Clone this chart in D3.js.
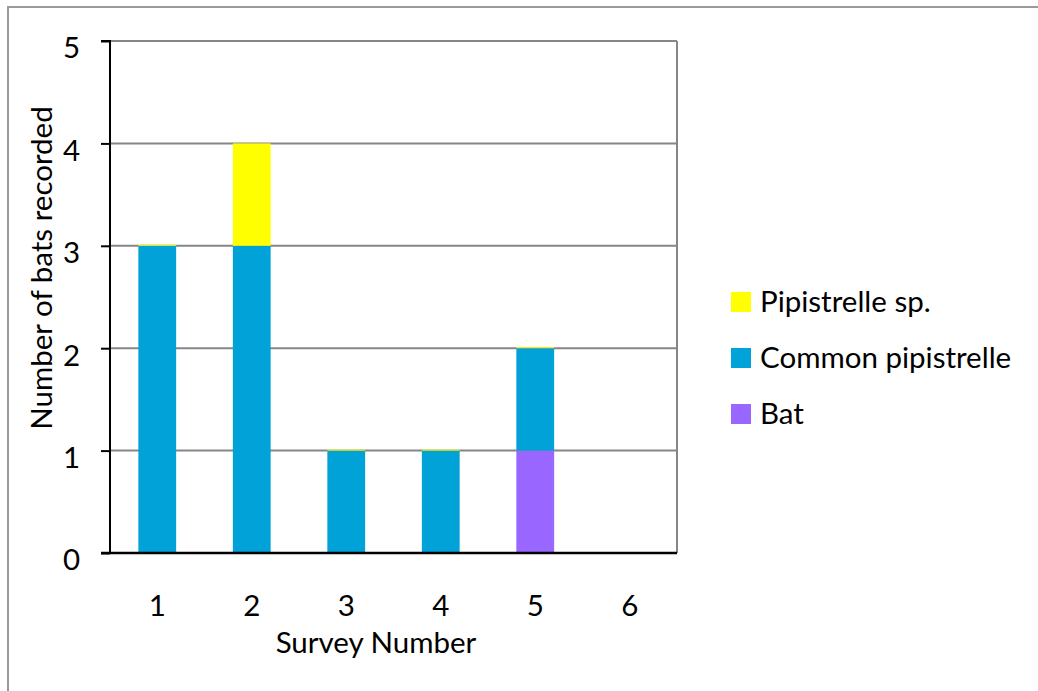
<!DOCTYPE html>
<html><head><meta charset="utf-8">
<script src="https://cdn.jsdelivr.net/npm/d3@7"></script>
<style>body{margin:0;background:#fff}svg{display:block}text{font-family:Lato,"Open Sans",sans-serif;fill:#000}</style>
</head><body><svg id="c" width="1038" height="691"></svg>
<script>
const surveys = ["1","2","3","4","5","6"];
const bat = [0,0,0,0,1,0];
const commonPipistrelle = [3,3,1,1,1,0];
const pipistrelleSp = [0,1,0,0,0,0];
const seriesNames = ["Bat","Common pipistrelle","Pipistrelle sp."];
const seriesColors = ["#9966ff","#00a2d8","#ffff00"];
const yTicks = [0,1,2,3,4,5];

const FS = 29.5;
const svg = d3.select("#c");
svg.append("rect").attr("x",8).attr("y",7).attr("width",1040).attr("height",700)
  .attr("fill","#fff").attr("stroke","#9a9a9a").attr("stroke-width",2);

const L=110,R=677,T=41,B=553;
const x = d3.scaleBand().domain(surveys).range([L,R]).paddingInner(0.6).paddingOuter(0.3);
const y = d3.scaleLinear().domain([0,5]).range([B,T]);

// gridlines
svg.append("g").selectAll("line").data(yTicks.slice(1)).join("line")
  .attr("x1",L).attr("x2",R).attr("y1",d=>y(d)).attr("y2",d=>y(d))
  .attr("stroke","#868686").attr("stroke-width",2);
svg.append("line").attr("x1",R).attr("x2",R).attr("y1",T).attr("y2",B).attr("stroke","#868686").attr("stroke-width",2);

const rows = surveys.map((s,i)=>({s, bat:bat[i], cp:commonPipistrelle[i], ps:pipistrelleSp[i]}));
const stack = d3.stack().keys(["bat","cp","ps"])(rows);
stack.forEach((layer,k)=>{
  svg.append("g").selectAll("rect").data(layer.filter(d=>d.data.bat+d.data.cp+d.data.ps>0)).join("rect")
    .attr("x",d=>x(d.data.s)).attr("width",x.bandwidth())
    .attr("y",d=>{const h=y(d[0])-y(d[1]); return h>0?y(d[1]):y(d[1])-(k===2?1:0);})
    .attr("height",d=>{const h=y(d[0])-y(d[1]); return h>0?h:(k===2?1:0);})
    .attr("fill",seriesColors[k]);
});

// y axis
const ya = svg.append("g").attr("transform",`translate(${L},0)`)
  .call(d3.axisLeft(y).tickValues(yTicks).tickSize(9).tickPadding(21).tickFormat(d3.format("d")));
ya.select(".domain").attr("stroke","#000").attr("stroke-width",2).attr("d",`M-9,${T}H0V${B}H-9`);
ya.selectAll(".tick line").attr("stroke","#000").attr("stroke-width",2);
ya.selectAll(".tick text").attr("font-size",FS).attr("dy","0.57em").style("font-family","Lato,'Open Sans',sans-serif");

// x axis
const xa = svg.append("g").attr("transform",`translate(0,${B})`)
  .call(d3.axisBottom(x).tickSize(0).tickPadding(42));
xa.select(".domain").attr("stroke","#000").attr("stroke-width",2.5).attr("d",`M${L-9},0H${R}`);
xa.selectAll(".tick text").attr("font-size",FS).style("font-family","Lato,'Open Sans',sans-serif");

svg.append("text").attr("x",376).attr("y",653).attr("text-anchor","middle").attr("font-size",FS).text("Survey Number");
svg.append("text").attr("transform",`translate(52,268) rotate(-90)`).attr("text-anchor","middle").attr("font-size",FS).text("Number of bats recorded");

// legend
const leg = [2,1,0];
leg.forEach((k,i)=>{
  const cy = 302 + i*56;
  svg.append("rect").attr("x",731).attr("y",cy-10).attr("width",20).attr("height",20).attr("fill",seriesColors[k]);
  svg.append("text").attr("x",760).attr("y",cy).attr("dy","0.35em").attr("font-size",FS).text(seriesNames[k]);
});
</script></body></html>
